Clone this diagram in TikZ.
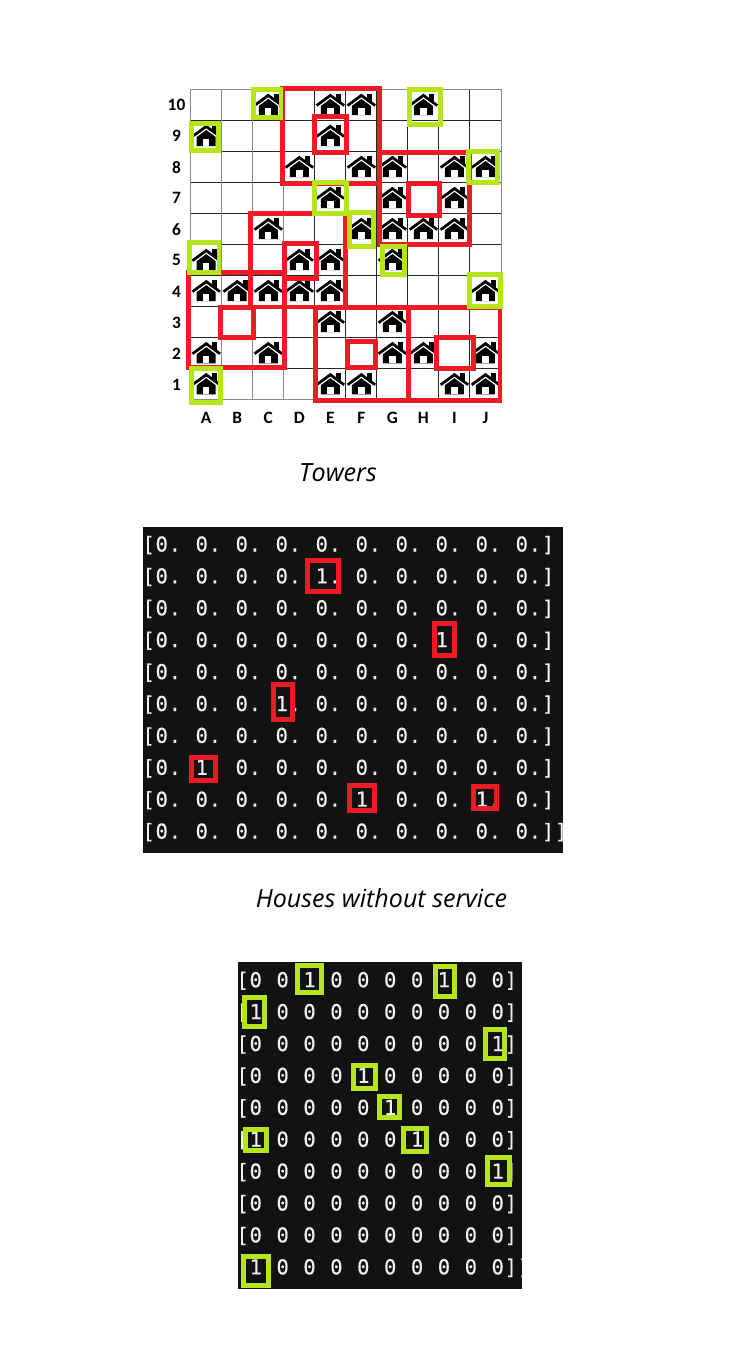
\documentclass[tikz,border=0pt]{standalone}
\usepackage{fontspec}
\setmainfont{Open Sans}
\newfontfamily\lblfont{Carlito}
\newfontfamily\termfont[FakeBold=0.35,LetterSpace=3.7,WordSpace=1.107]{DejaVu Sans Mono}
\newcommand{\termsetup}{\termfont\frenchspacing\fontsize{15.4}{15.4}\selectfont}
\definecolor{redbox}{HTML}{ED1C24}
\definecolor{greenbox}{HTML}{B5E61D}
\definecolor{termbg}{HTML}{121212}
\definecolor{termfg}{HTML}{F0F0F0}
\definecolor{gridgray}{HTML}{8A8A8A}
\tikzset{
  x=0.75pt,y=-0.75pt,
  redrect/.style={draw=redbox,line width=3.5pt,line join=miter},
  greenrect/.style={draw=greenbox,line width=3.5pt,line join=miter},
  gridline/.style={draw=black!85,line width=0.75pt},
  grayline/.style={draw=gridgray,line width=0.75pt},
  axislabel/.style={font=\lblfont\bfseries\fontsize{13}{13}\selectfont,text=black,inner sep=0pt},
  termrow/.style={font=\termsetup,text=termfg,inner sep=0pt,anchor=base west},
  caption/.style={font=\itshape\fontsize{18.8}{18.8}\selectfont,text=black,inner sep=0pt},
  pics/house/.style={code={
    \fill[black] (-9.5,10.5)--(-9.5,-2)--(0,-9)--(9.5,-2)--(9.5,10.5)--cycle;
    \fill[white] (-3.2,10.6) rectangle (3.2,3.5);
    \fill[black] (6,-10.8) rectangle (10.6,-2);
    \draw[white,line width=1pt] (-13,3)--(0,-6.6)--(13,3);
    \draw[black,line width=2pt,line join=miter] (-13.8,1)--(0,-9.2)--(13.8,1);
  }}
}
\begin{document}
\begin{tikzpicture}
\useasboundingbox (0,0) rectangle (751,1347);
\fill[white] (0,0) rectangle (751,1347);
\def\cw{31.03}
\def\gx{190.7}
\def\gy{89}
% grid
\foreach \i in {1,...,9}{
  \draw[gridline] ({\gx+\i*\cw},\gy) -- ({\gx+\i*\cw},{\gy+10*\cw});
  \draw[gridline] (\gx,{\gy+\i*\cw}) -- ({\gx+10*\cw},{\gy+\i*\cw});
}
\foreach \i in {0,1,2,3,10}{
  \draw[grayline] ({\gx+\i*\cw},\gy) -- ({\gx+\i*\cw},{\gy+10*\cw});
}
\draw[grayline] (\gx,\gy) -- ({\gx+10*\cw},\gy);
\draw[grayline] (\gx,{\gy+10*\cw}) -- ({\gx+10*\cw},{\gy+10*\cw});
% houses: col (0=A), row (10..1)
\foreach \c/\r in {2/10,4/10,5/10,7/10, 0/9,4/9, 3/8,5/8,6/8,8/8,9/8, 4/7,6/7,8/7,
  2/6,5/6,6/6,7/6,8/6, 0/5,3/5,4/5,6/5, 0/4,1/4,2/4,3/4,4/4,9/4, 4/3,6/3,
  0/2,2/2,6/2,7/2,9/2, 0/1,4/1,5/1,8/1,9/1}{
  \pic at ({\gx+(\c+0.5)*\cw},{\gy+(10-\r+0.5)*\cw}) {house};
}
% axis labels
\foreach \r in {1,...,10}{
  \node[axislabel] (row\r) at (176.5,{\gy+0.7+(10-\r+0.5)*\cw}) {\r};
}
\foreach \l [count=\c from 0] in {A,B,C,D,E,F,G,H,I,J}{
  \node[axislabel] (col\l) at ({\gx+(\c+0.5)*\cw},417.5) {\l};
}
% red rectangles on the map
\draw[redrect] (282.3,88.3) rectangle (379.3,183.3);
\draw[redrect] (314.7,116.3) rectangle (346.7,152.3);
\draw[redrect] (379.7,152.3) rectangle (469.3,244.3);
\draw[redrect] (408.3,183.3) rectangle (439.7,215.3);
\draw[redrect] (250.3,213.3) rectangle (345.3,307);
\draw[redrect] (284.3,243.3) rectangle (316.7,278.3);
\draw[redrect] (188.3,272.3) rectangle (284.7,367.7);
\draw[redrect] (220.7,307.3) rectangle (253.7,337.7);
\draw[redrect] (315.7,307.3) rectangle (408.7,400.7);
\draw[redrect] (408.7,307.3) rectangle (500,400.7);
\draw[redrect] (347.7,341.3) rectangle (375.7,367.7);
\draw[redrect] (436.3,337.3) rectangle (473.7,368.7);
% green rectangles on the map
\draw[greenrect] (253.3,89.3) rectangle (281,117.3);
\draw[greenrect] (409.3,89.3) rectangle (440.7,124.3);
\draw[greenrect] (191.3,123.7) rectangle (218.7,150.7);
\draw[greenrect] (468.3,151.3) rectangle (497.7,182.3);
\draw[greenrect] (314.7,182.3) rectangle (346.7,213.3);
\draw[greenrect] (349.3,212.3) rectangle (373.7,246.3);
\draw[greenrect] (189.3,242.3) rectangle (219,272.3);
\draw[greenrect] (382.3,246.3) rectangle (404.7,274.3);
\draw[greenrect] (469.3,274.3) rectangle (500.7,306.7);
\draw[greenrect] (191.3,368.3) rectangle (220.7,402.3);
% captions
\node[caption] (towers) at (338,473) {Towers};
\node[caption] (houses) at (381.5,898) {Houses without service};
% first matrix
\fill[termbg] (143,527) rectangle (563,853);
\begin{scope}
\clip (143,527) rectangle (563,853);
\foreach \t [count=\n from 0] in {
  {[0. 0. 0. 0. 0. 0. 0. 0. 0. 0.]},
  {[0. 0. 0. 0. 1. 0. 0. 0. 0. 0.]},
  {[0. 0. 0. 0. 0. 0. 0. 0. 0. 0.]},
  {[0. 0. 0. 0. 0. 0. 0. 1. 0. 0.]},
  {[0. 0. 0. 0. 0. 0. 0. 0. 0. 0.]},
  {[0. 0. 0. 1. 0. 0. 0. 0. 0. 0.]},
  {[0. 0. 0. 0. 0. 0. 0. 0. 0. 0.]},
  {[0. 1. 0. 0. 0. 0. 0. 0. 0. 0.]},
  {[0. 0. 0. 0. 0. 1. 0. 0. 1. 0.]},
  {[0. 0. 0. 0. 0. 0. 0. 0. 0. 0.]]}}{
  \node[termrow] (ma\n) at (142.2,{551.5+\n*31.9}) {\t};
}
\end{scope}
\draw[redrect] (307.3,560.3) rectangle (338.7,591.7);
\draw[redrect] (434.3,623.3) rectangle (454.7,655.7);
\draw[redrect] (273.3,684.3) rectangle (292.7,719.7);
\draw[redrect] (191.3,757.3) rectangle (215.7,780.7);
\draw[redrect] (349.3,785.3) rectangle (374.7,810.7);
\draw[redrect] (473.3,786.3) rectangle (496.7,808.7);
% second matrix
\fill[termbg] (238,962) rectangle (522,1289);
\begin{scope}
\clip (238,962) rectangle (522,1289);
\foreach \t [count=\n from 0] in {
  {[0 0 1 0 0 0 0 1 0 0]},
  {[1 0 0 0 0 0 0 0 0 0]},
  {[0 0 0 0 0 0 0 0 0 1]},
  {[0 0 0 0 1 0 0 0 0 0]},
  {[0 0 0 0 0 1 0 0 0 0]},
  {[1 0 0 0 0 0 1 0 0 0]},
  {[0 0 0 0 0 0 0 0 0 1]},
  {[0 0 0 0 0 0 0 0 0 0]},
  {[0 0 0 0 0 0 0 0 0 0]},
  {[1 0 0 0 0 0 0 0 0 0]]}}{
  \node[termrow] (mb\n) at (236.2,{987.2+\n*31.9}) {\t};
}
\end{scope}
\draw[greenrect] (297.3,965.3) rectangle (321.7,992.7);
\draw[greenrect] (435.3,966.3) rectangle (454.7,996.7);
\draw[greenrect] (244.3,997.3) rectangle (264.7,1026.7);
\draw[greenrect] (485.3,1029.3) rectangle (504.7,1058.7);
\draw[greenrect] (353.3,1065.3) rectangle (375.7,1088.7);
\draw[greenrect] (379.3,1096.3) rectangle (399.7,1117.7);
\draw[greenrect] (245.3,1129.3) rectangle (266.7,1150.7);
\draw[greenrect] (403.3,1128.3) rectangle (426.7,1151.7);
\draw[greenrect] (487.3,1157.3) rectangle (509.7,1184.7);
\draw[greenrect] (243.3,1256.3) rectangle (268.7,1285.7);
\end{tikzpicture}
\end{document}
